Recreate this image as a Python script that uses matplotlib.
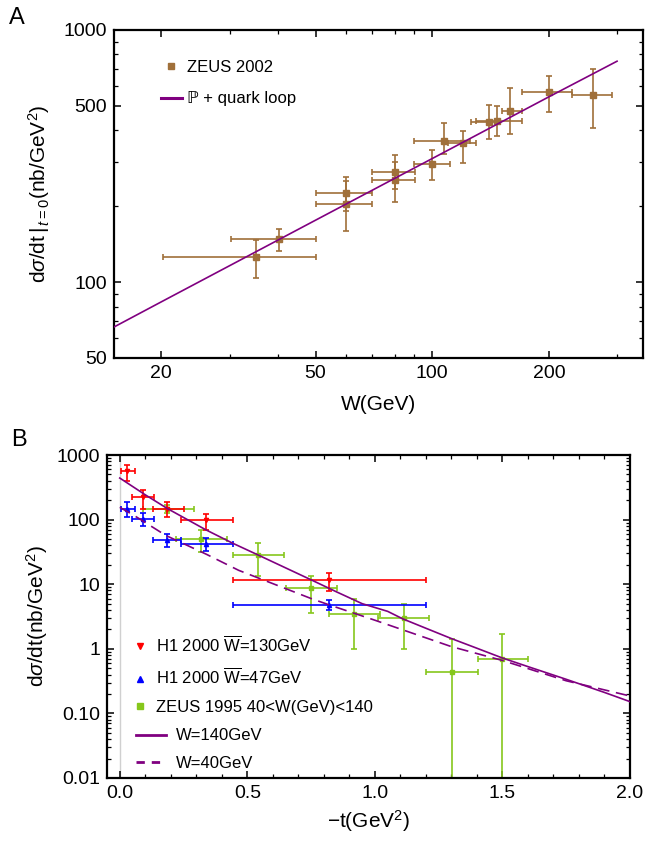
import numpy as np
import matplotlib
matplotlib.use("Agg")
import matplotlib.pyplot as plt
from matplotlib.lines import Line2D
from matplotlib.ticker import FixedLocator, NullFormatter, LogLocator, MultipleLocator

plt.rcParams['font.family'] = ['Liberation Sans', 'DejaVu Sans']
plt.rcParams['mathtext.fontset'] = 'custom'
plt.rcParams['mathtext.rm'] = 'Liberation Sans'
plt.rcParams['mathtext.it'] = 'Liberation Sans:italic'
plt.rcParams['mathtext.bf'] = 'Liberation Sans:bold'

# ---- Panel A: ZEUS 2002, d sigma/dt at t=0 vs W
zeus02_W = [35.2, 40.2, 60, 60, 80, 80, 100, 107, 120, 140, 147, 159, 200, 260]
zeus02_Wlo = [20.2, 30.3, 50, 50, 70, 70, 90, 90, 110, 126, 130, 151, 171, 230]
zeus02_Whi = [50, 50, 70, 70, 90.5, 90.5, 111, 125, 130, 150, 171, 171, 230, 291]
zeus02_y = [126, 148, 226, 205, 273, 255, 293, 362, 355, 430, 434, 479, 570, 552]
zeus02_ylo = [104, 133, 191, 159, 235, 207, 253, 321, 298, 371, 380, 387, 473, 407]
zeus02_yhi = [147, 163, 261, 251, 318, 300, 333, 427, 397, 502, 499, 589, 658, 700]

# theory curve (P + quark loop)
curveA_W = [15, 20, 50, 100, 200, 300]
curveA_y = [66, 83.5, 176, 309, 543, 752]

# ---- Panel B: d sigma/dt vs -t
h1_130_t = [0.029, 0.090, 0.187, 0.337, 0.819]
h1_130_tlo = [0.003, 0.047, 0.130, 0.240, 0.442]
h1_130_thi = [0.061, 0.134, 0.251, 0.442, 1.202]
h1_130_y = [560, 222, 147, 97, 11.5]
h1_130_ylo = [402, 147, 109, 70, 7.9]
h1_130_yhi = [709, 289, 190, 120, 14.9]

h1_47_t = [0.029, 0.090, 0.187, 0.337, 0.819]
h1_47_tlo = [0.005, 0.047, 0.130, 0.240, 0.442]
h1_47_thi = [0.061, 0.134, 0.240, 0.442, 1.202]
h1_47_y = [147, 103, 49, 42, 4.7]
h1_47_ylo = [109, 80, 38, 33, 4.0]
h1_47_yhi = [186, 127, 60, 52, 5.7]

zeus95_t = [0.187, 0.319, 0.541, 0.751, 0.920, 1.114, 1.302, 1.500]
zeus95_tlo = [0.090, 0.222, 0.442, 0.651, 0.819, 1.014, 1.202, 1.404]
zeus95_thi = [0.292, 0.421, 0.643, 0.853, 1.020, 1.214, 1.404, 1.600]
zeus95_y = [147, 50.6, 28.6, 8.7, 3.5, 3.05, 0.43, 0.70]
zeus95_ylo = [125, 31, 13.4, 3.6, 1.01, 1.0, 0.001, 0.001]
zeus95_yhi = [170, 70, 43, 13.6, 6.0, 5.0, 1.4, 1.69]

w140_t = [0, 0.1, 0.187, 0.336, 0.44, 0.54, 0.65, 0.758, 0.85, 0.95, 1.05, 1.11,
          1.2, 1.3, 1.4, 1.5, 1.6, 1.75, 1.9, 2.0]
w140_y = [440, 242, 148, 70, 43.6, 28.6, 17.9, 11.3, 7.6, 5.0, 3.8, 2.9,
          2.08, 1.44, 1.02, 0.72, 0.53, 0.337, 0.211, 0.152]
w40_t = [0, 0.056, 0.18, 0.34, 0.466, 0.75, 0.82, 1.0, 1.3, 1.5, 1.75, 2.0]
w40_y = [155, 116, 57, 29, 16.4, 6.0, 4.8, 2.77, 1.08, 0.66, 0.32, 0.186]

brown = '#a0703a'
purple = '#800080'
green = '#86c71c'


def asym(c, lo, hi):
    c = np.array(c, dtype=float)
    return [c - np.array(lo, dtype=float), np.array(hi, dtype=float) - c]


def style_axes(ax):
    for s in ax.spines.values():
        s.set_linewidth(1.6)
    ax.tick_params(which='both', direction='in', top=True, right=True,
                   labelsize=14, pad=5)
    ax.tick_params(which='major', length=5, width=1.1)
    ax.tick_params(which='minor', length=2.6, width=0.9)


fig = plt.figure(figsize=(6.46, 8.41), dpi=100)

# ---------------- Panel A
axA = fig.add_axes([114 / 646, 1 - 358 / 841, 529 / 646, 328 / 841])
axA.set_xscale('log')
axA.set_yscale('log')
axA.errorbar(zeus02_W, zeus02_y,
             xerr=asym(zeus02_W, zeus02_Wlo, zeus02_Whi),
             yerr=asym(zeus02_y, zeus02_ylo, zeus02_yhi),
             fmt='s', ms=4, color=brown, ecolor=brown, elinewidth=1.2,
             capsize=2.5, capthick=1.2, zorder=2)
axA.plot(curveA_W, curveA_y, color=purple, lw=1.2, zorder=3)
axA.set_xlim(15.1, 350)
axA.set_ylim(50, 1000)
axA.xaxis.set_major_locator(FixedLocator([20, 50, 100, 200]))
axA.xaxis.set_minor_locator(FixedLocator([30, 40, 60, 70, 80, 90, 300]))
axA.xaxis.set_minor_formatter(NullFormatter())
axA.set_xticklabels(['20', '50', '100', '200'])
axA.yaxis.set_major_locator(FixedLocator([50, 100, 500, 1000]))
axA.yaxis.set_minor_locator(FixedLocator([60, 70, 80, 90, 200, 300, 400, 600, 700, 800, 900]))
axA.yaxis.set_minor_formatter(NullFormatter())
axA.set_yticklabels(['50', '100', '500', '1000'])
style_axes(axA)
axA.set_xlabel('W(GeV)', fontsize=15)
axA.set_ylabel(r'd$\sigma$/dt$\,|_{\,t=0}$(nb/GeV$^2$)', fontsize=15)
axA.xaxis.set_label_coords(0.5, -0.113)
axA.yaxis.set_label_coords(-0.117, 0.5)
hA = [Line2D([], [], ls='none', marker='s', ms=4.5, color=brown),
      Line2D([], [], color=purple, lw=2.2)]
axA.legend(hA, ['ZEUS 2002', 'ℙ + quark loop'], loc='upper left',
           bbox_to_anchor=(0.06, 0.955), frameon=False, fontsize=12,
           handlelength=1.26, handletextpad=0.3, labelspacing=1.0)
fig.text(17 / 646, 1 - 18 / 841, 'A', fontsize=17, ha='center', va='center')

# ---------------- Panel B
axB = fig.add_axes([107 / 646, 1 - 778 / 841, 523 / 646, 323 / 841])
axB.set_yscale('log')
axB.axvline(0, color='#d0d0d0', lw=1.0, zorder=0)
axB.errorbar(h1_130_t, h1_130_y,
             xerr=asym(h1_130_t, h1_130_tlo, h1_130_thi),
             yerr=asym(h1_130_y, h1_130_ylo, h1_130_yhi),
             fmt='v', ms=3, color='red', elinewidth=1.2,
             capsize=2.2, capthick=1.2, zorder=3)
axB.errorbar(h1_47_t, h1_47_y,
             xerr=asym(h1_47_t, h1_47_tlo, h1_47_thi),
             yerr=asym(h1_47_y, h1_47_ylo, h1_47_yhi),
             fmt='^', ms=3, color='blue', elinewidth=1.2,
             capsize=2.2, capthick=1.2, zorder=3)
axB.errorbar(zeus95_t, zeus95_y,
             xerr=asym(zeus95_t, zeus95_tlo, zeus95_thi),
             yerr=asym(zeus95_y, zeus95_ylo, zeus95_yhi),
             fmt='s', ms=2.5, color=green, elinewidth=1.2,
             capsize=2.2, capthick=1.2, zorder=2)
axB.plot(w140_t, w140_y, color=purple, lw=1.2, zorder=4)
axB.plot(w40_t, w40_y, color=purple, lw=1.2, ls=(0, (7, 4)), zorder=4)
axB.set_xlim(-0.05, 2.0)
axB.set_ylim(0.01, 1000)
axB.xaxis.set_major_locator(FixedLocator([0, 0.5, 1.0, 1.5, 2.0]))
axB.xaxis.set_minor_locator(MultipleLocator(0.1))
axB.set_xticklabels(['0.0', '0.5', '1.0', '1.5', '2.0'])
axB.yaxis.set_major_locator(FixedLocator([0.01, 0.1, 1, 10, 100, 1000]))
axB.yaxis.set_minor_locator(LogLocator(base=10, subs=np.arange(2, 10), numticks=20))
axB.yaxis.set_minor_formatter(NullFormatter())
axB.set_yticklabels(['0.01', '0.10', '1', '10', '100', '1000'])
style_axes(axB)
axB.set_xlabel('−t(GeV$^2$)', fontsize=15)
axB.set_ylabel(r'd$\sigma$/dt(nb/GeV$^2$)', fontsize=15)
axB.xaxis.set_label_coords(0.5, -0.093)
axB.yaxis.set_label_coords(-0.109, 0.5)

hB1 = [Line2D([], [], ls='none', marker='v', ms=5, color='red'),
       Line2D([], [], ls='none', marker='^', ms=5, color='blue'),
       Line2D([], [], ls='none', marker='s', ms=4.5, color=green)]
legB1 = axB.legend(hB1, [r'H1 2000 $\overline{\mathrm{W}}$=130GeV',
                         r'H1 2000 $\overline{\mathrm{W}}$=47GeV',
                         'ZEUS 1995 40<W(GeV)<140'],
                   loc='upper left', bbox_to_anchor=(0.019, 0.49), frameon=False,
                   fontsize=12, handlelength=1.0, handletextpad=0.46,
                   labelspacing=0.75)
axB.add_artist(legB1)
hB2 = [Line2D([], [], color=purple, lw=2.0),
       Line2D([], [], color=purple, lw=2.0, ls=(0, (3, 2.5)))]
axB.legend(hB2, ['W=140GeV', 'W=40GeV'], loc='upper left',
           bbox_to_anchor=(0.027, 0.20), frameon=False, fontsize=12,
           handlelength=1.8, handletextpad=0.6, labelspacing=0.75)
fig.text(19 / 646, 1 - 440 / 841, 'B', fontsize=17, ha='center', va='center')

fig.savefig('out.png', dpi=100)
